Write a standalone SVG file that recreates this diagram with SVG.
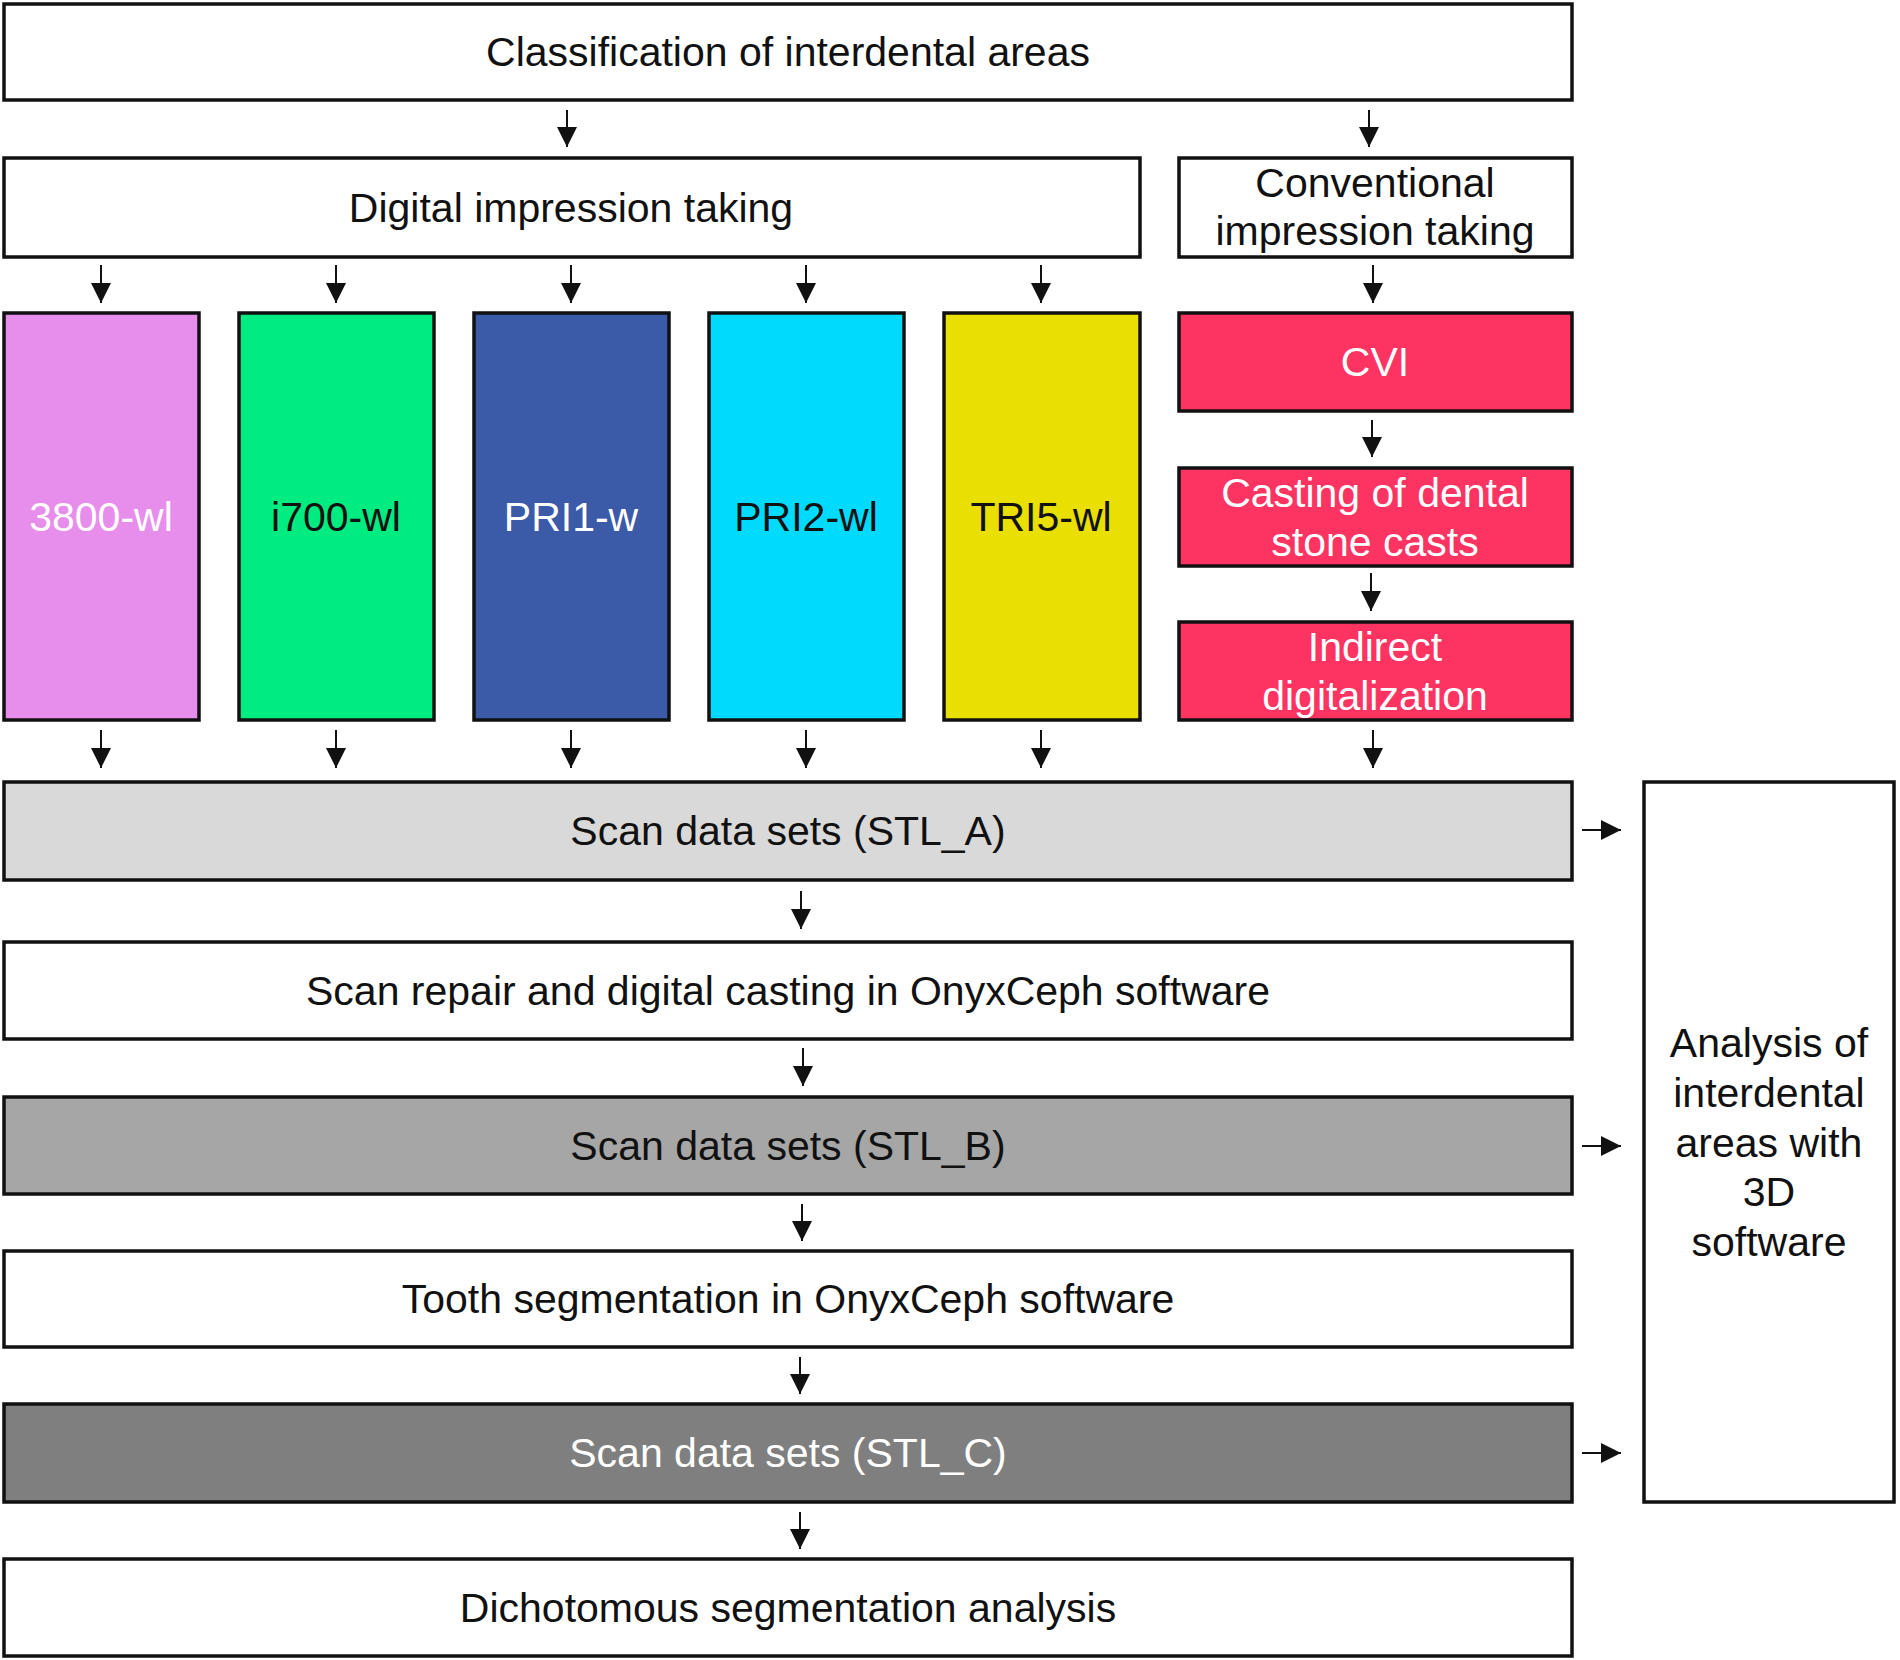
<svg xmlns="http://www.w3.org/2000/svg" width="1900" height="1660" viewBox="0 0 1900 1660">
<style>
.b{stroke:#111;stroke-width:3.5}
.t{font-family:"Liberation Sans",Arial,sans-serif;font-size:41px;text-anchor:middle;fill:#111}
.w{fill:#fff}
.c{stroke:#111;stroke-width:2;fill:none;marker-end:url(#ah)}
</style>
<defs>
<marker id="ah" viewBox="0 0 20 20" refX="20" refY="10" markerWidth="20" markerHeight="20" markerUnits="userSpaceOnUse" orient="auto">
<path d="M0,0 L20,10 L0,20 z" fill="#111"/>
</marker>
</defs>
<rect width="1900" height="1660" fill="#fff"/>
<g id="classification"><rect class="b" x="4" y="4" width="1568" height="96" fill="#fff"/><text class="t" x="788" y="66">Classification of interdental areas</text></g>
<g id="digital"><rect class="b" x="4" y="158" width="1136" height="99" fill="#fff"/><text class="t" x="571" y="222">Digital impression taking</text></g>
<g id="conventional"><rect class="b" x="1179" y="158" width="393" height="99" fill="#fff"/><text class="t" x="1375" y="197">Conventional</text><text class="t" x="1375" y="245">impression taking</text></g>
<g id="s3800"><rect class="b" x="4" y="313" width="195" height="407" fill="#E78DEB"/><text class="t w" x="101" y="531">3800-wl</text></g>
<g id="i700"><rect class="b" x="239" y="313" width="195" height="407" fill="#00EC80"/><text class="t" x="336" y="531">i700-wl</text></g>
<g id="pri1"><rect class="b" x="474" y="313" width="195" height="407" fill="#3B5AA8"/><text class="t w" x="571" y="531">PRI1-w</text></g>
<g id="pri2"><rect class="b" x="709" y="313" width="195" height="407" fill="#00DAFC"/><text class="t" x="806" y="531">PRI2-wl</text></g>
<g id="tri5"><rect class="b" x="944" y="313" width="196" height="407" fill="#E9DF00"/><text class="t" x="1041" y="531">TRI5-wl</text></g>
<g id="cvi"><rect class="b" x="1179" y="313" width="393" height="98" fill="#FD3461"/><text class="t w" x="1375" y="376">CVI</text></g>
<g id="casting"><rect class="b" x="1179" y="468" width="393" height="98" fill="#FD3461"/><text class="t w" x="1375" y="507">Casting of dental</text><text class="t w" x="1375" y="556">stone casts</text></g>
<g id="indirect"><rect class="b" x="1179" y="622" width="393" height="98" fill="#FD3461"/><text class="t w" x="1375" y="661">Indirect</text><text class="t w" x="1375" y="710">digitalization</text></g>
<g id="stla"><rect class="b" x="4" y="782" width="1568" height="98" fill="#D9D9D9"/><text class="t" x="788" y="845">Scan data sets (STL_A)</text></g>
<g id="repair"><rect class="b" x="4" y="942" width="1568" height="97" fill="#fff"/><text class="t" x="788" y="1005">Scan repair and digital casting in OnyxCeph software</text></g>
<g id="stlb"><rect class="b" x="4" y="1097" width="1568" height="97" fill="#A6A6A6"/><text class="t" x="788" y="1160">Scan data sets (STL_B)</text></g>
<g id="tooth"><rect class="b" x="4" y="1251" width="1568" height="96" fill="#fff"/><text class="t" x="788" y="1313">Tooth segmentation in OnyxCeph software</text></g>
<g id="stlc"><rect class="b" x="4" y="1404" width="1568" height="98" fill="#7F7F7F"/><text class="t w" x="788" y="1467">Scan data sets (STL_C)</text></g>
<g id="dicho"><rect class="b" x="4" y="1559" width="1568" height="97" fill="#fff"/><text class="t" x="788" y="1622">Dichotomous segmentation analysis</text></g>
<g id="analysis"><rect class="b" x="1644" y="782" width="250" height="720" fill="#fff"/>
<text class="t" x="1769" y="1057">Analysis of</text><text class="t" x="1769" y="1107">interdental</text><text class="t" x="1769" y="1157">areas with</text><text class="t" x="1769" y="1206">3D</text><text class="t" x="1769" y="1256">software</text></g>
<g id="connectors">
<line class="c" x1="567" y1="110" x2="567" y2="147"/>
<line class="c" x1="1369" y1="110" x2="1369" y2="147"/>
<line class="c" x1="101" y1="265" x2="101" y2="303"/>
<line class="c" x1="336" y1="265" x2="336" y2="303"/>
<line class="c" x1="571" y1="265" x2="571" y2="303"/>
<line class="c" x1="806" y1="265" x2="806" y2="303"/>
<line class="c" x1="1041" y1="265" x2="1041" y2="303"/>
<line class="c" x1="1373" y1="265" x2="1373" y2="303"/>
<line class="c" x1="1372" y1="420" x2="1372" y2="457"/>
<line class="c" x1="1371" y1="573" x2="1371" y2="611"/>
<line class="c" x1="101" y1="730" x2="101" y2="768"/>
<line class="c" x1="336" y1="730" x2="336" y2="768"/>
<line class="c" x1="571" y1="730" x2="571" y2="768"/>
<line class="c" x1="806" y1="730" x2="806" y2="768"/>
<line class="c" x1="1041" y1="730" x2="1041" y2="768"/>
<line class="c" x1="1373" y1="730" x2="1373" y2="768"/>
<line class="c" x1="801" y1="891" x2="801" y2="929"/>
<line class="c" x1="803" y1="1048" x2="803" y2="1086"/>
<line class="c" x1="802" y1="1204" x2="802" y2="1241"/>
<line class="c" x1="800" y1="1357" x2="800" y2="1394"/>
<line class="c" x1="800" y1="1512" x2="800" y2="1549"/>
<line class="c" x1="1582" y1="830" x2="1621" y2="830"/>
<line class="c" x1="1582" y1="1146" x2="1621" y2="1146"/>
<line class="c" x1="1582" y1="1453" x2="1621" y2="1453"/>
</g>
</svg>
